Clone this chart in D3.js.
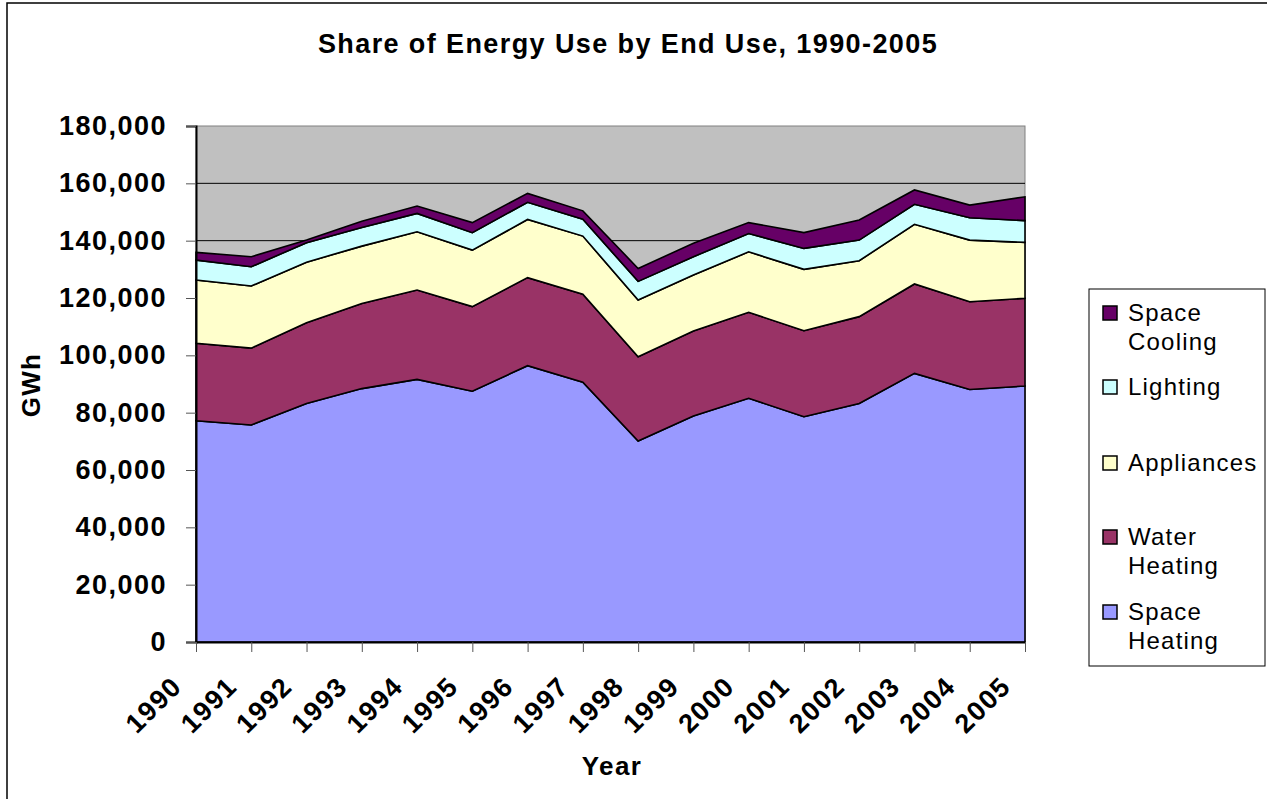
<!DOCTYPE html>
<html>
<head>
<meta charset="utf-8">
<script src="https://cdn.jsdelivr.net/npm/d3@7"></script>
<style>
  html, body { margin: 0; padding: 0; background: #fff; }
  svg { display: block; font-family: "Liberation Sans", Arial, sans-serif; }
</style>
</head>
<body>
<svg id="chart" width="1267" height="799"></svg>
<script>
// years along the x axis
const years = [1990, 1991, 1992, 1993, 1994, 1995, 1996, 1997, 1998, 1999, 2000, 2001, 2002, 2003, 2004, 2005];

// GWh per end use, stacked bottom to top
const spaceHeating = [77200, 75700, 83200, 88400, 91600, 87500, 96400, 90600, 70100, 78800, 85000, 78600, 83200, 93700, 88100, 89300];
const waterHeating = [27000, 26800, 28200, 29700, 31200, 29500, 30700, 30700, 29400, 29700, 30000, 30000, 30300, 31200, 30600, 30600];
const appliances   = [22100, 21700, 21100, 20000, 20300, 19700, 20300, 20300, 19800, 19500, 21100, 21400, 19500, 20800, 21500, 19500];
const lighting     = [6900, 6700, 6800, 6500, 6400, 6100, 6000, 5900, 6500, 6400, 6400, 7300, 7200, 7000, 7800, 7600];
const spaceCooling = [2700, 3500, 900, 2200, 2600, 3500, 3100, 2900, 4500, 4700, 3800, 5500, 7000, 5000, 4400, 8300];

const seriesNames = ['Space Heating', 'Water Heating', 'Appliances', 'Lighting', 'Space Cooling'];
const seriesColors = ['#9999ff', '#993366', '#ffffcc', '#ccffff', '#660066'];
const yTicks = [0, 20000, 40000, 60000, 80000, 100000, 120000, 140000, 160000, 180000];

const svg = d3.select('#chart');

// outer chart frame (runs off the right and bottom edge)
svg.append('rect')
  .attr('x', 7).attr('y', 3)
  .attr('width', 1300).attr('height', 850)
  .attr('fill', '#fff').attr('stroke', '#000').attr('stroke-width', 1.5);

const plot = { left: 196, right: 1025, top: 126, bottom: 642 };

const x = d3.scalePoint().domain(years).range([plot.left, plot.right]);
const y = d3.scaleLinear().domain([0, 180000]).range([plot.bottom, plot.top]);

// plot background
svg.append('rect')
  .attr('x', plot.left).attr('y', plot.top)
  .attr('width', plot.right - plot.left).attr('height', plot.bottom - plot.top)
  .attr('fill', '#c0c0c0').attr('stroke', '#808080').attr('stroke-width', 1);

// gridlines
svg.append('g')
  .selectAll('line')
  .data(yTicks.filter(d => d > 0 && d < 180000))
  .join('line')
  .attr('x1', plot.left).attr('x2', plot.right)
  .attr('y1', d => y(d)).attr('y2', d => y(d))
  .attr('stroke', '#000').attr('stroke-width', 1);

// stack the series
const table = years.map((yr, i) => ({
  year: yr,
  'Space Heating': spaceHeating[i],
  'Water Heating': waterHeating[i],
  'Appliances': appliances[i],
  'Lighting': lighting[i],
  'Space Cooling': spaceCooling[i]
}));

const stacked = d3.stack().keys(seriesNames)(table);

const area = d3.area()
  .x(d => x(d.data.year))
  .y0(d => y(d[0]))
  .y1(d => y(d[1]));

svg.append('g')
  .selectAll('path')
  .data(stacked)
  .join('path')
  .attr('d', area)
  .attr('fill', (d, i) => seriesColors[i])
  .attr('stroke', '#000')
  .attr('stroke-width', 1.6)
  .attr('stroke-linejoin', 'miter');

// y axis
const yAxis = svg.append('g')
  .attr('transform', `translate(${plot.left},0)`)
  .call(d3.axisLeft(y).tickValues(yTicks).tickSize(10).tickPadding(19)
    .tickFormat(d3.format(',')));
yAxis.select('.domain').attr('stroke', '#000').attr('stroke-width', 2);
yAxis.selectAll('.tick line').attr('stroke', '#555');
yAxis.selectAll('text')
  .attr('font-family', '"Liberation Sans", Arial, sans-serif')
  .attr('font-size', 27).attr('font-weight', 'bold').attr('fill', '#000')
  .attr('letter-spacing', 1.5);

// x axis
const xAxis = svg.append('g')
  .attr('transform', `translate(0,${plot.bottom})`)
  .call(d3.axisBottom(x).tickSize(10).tickSizeOuter(0).tickFormat(d => d));
xAxis.select('.domain').attr('stroke', '#000').attr('stroke-width', 2);
xAxis.selectAll('.tick line').attr('stroke', '#555');
xAxis.selectAll('text')
  .attr('font-family', '"Liberation Sans", Arial, sans-serif')
  .attr('font-size', 27).attr('font-weight', 'bold').attr('fill', '#000')
  .attr('letter-spacing', 1.5)
  .attr('text-anchor', 'end')
  .attr('dy', null).attr('y', null)
  .attr('transform', 'translate(-13,46) rotate(-45)');

// title and axis titles
svg.append('text')
  .attr('x', 628).attr('y', 53)
  .attr('text-anchor', 'middle')
  .attr('font-size', 27).attr('font-weight', 'bold')
  .attr('letter-spacing', 1.4)
  .text('Share of Energy Use by End Use, 1990-2005');

svg.append('text')
  .attr('x', 612).attr('y', 775)
  .attr('text-anchor', 'middle')
  .attr('font-size', 26).attr('font-weight', 'bold')
  .attr('letter-spacing', 1.4)
  .text('Year');

svg.append('text')
  .attr('transform', 'translate(40,385) rotate(-90)')
  .attr('text-anchor', 'middle')
  .attr('font-size', 26).attr('font-weight', 'bold')
  .attr('letter-spacing', 1.2)
  .text('GWh');

// legend
const legendItems = [
  { name: 'Space Cooling', lines: ['Space', 'Cooling'], color: seriesColors[4], y: 313 },
  { name: 'Lighting', lines: ['Lighting'], color: seriesColors[3], y: 387 },
  { name: 'Appliances', lines: ['Appliances'], color: seriesColors[2], y: 463 },
  { name: 'Water Heating', lines: ['Water', 'Heating'], color: seriesColors[1], y: 537 },
  { name: 'Space Heating', lines: ['Space', 'Heating'], color: seriesColors[0], y: 612 }
];

svg.append('rect')
  .attr('x', 1089).attr('y', 289)
  .attr('width', 176).attr('height', 377)
  .attr('fill', '#fff').attr('stroke', '#000').attr('stroke-width', 1);

const lg = svg.append('g').selectAll('g').data(legendItems).join('g');
lg.append('rect')
  .attr('x', 1103).attr('y', d => d.y - 7)
  .attr('width', 14).attr('height', 14)
  .attr('fill', d => d.color).attr('stroke', '#000').attr('stroke-width', 1.5);
lg.each(function(d) {
  const t = d3.select(this).append('text')
    .attr('x', 1128).attr('y', d.y + 8)
    .attr('font-size', 24)
    .attr('letter-spacing', 1.2);
  d.lines.forEach((ln, j) => {
    t.append('tspan').attr('x', 1128).attr('dy', j === 0 ? 0 : 29).text(ln);
  });
});
</script>
</body>
</html>
